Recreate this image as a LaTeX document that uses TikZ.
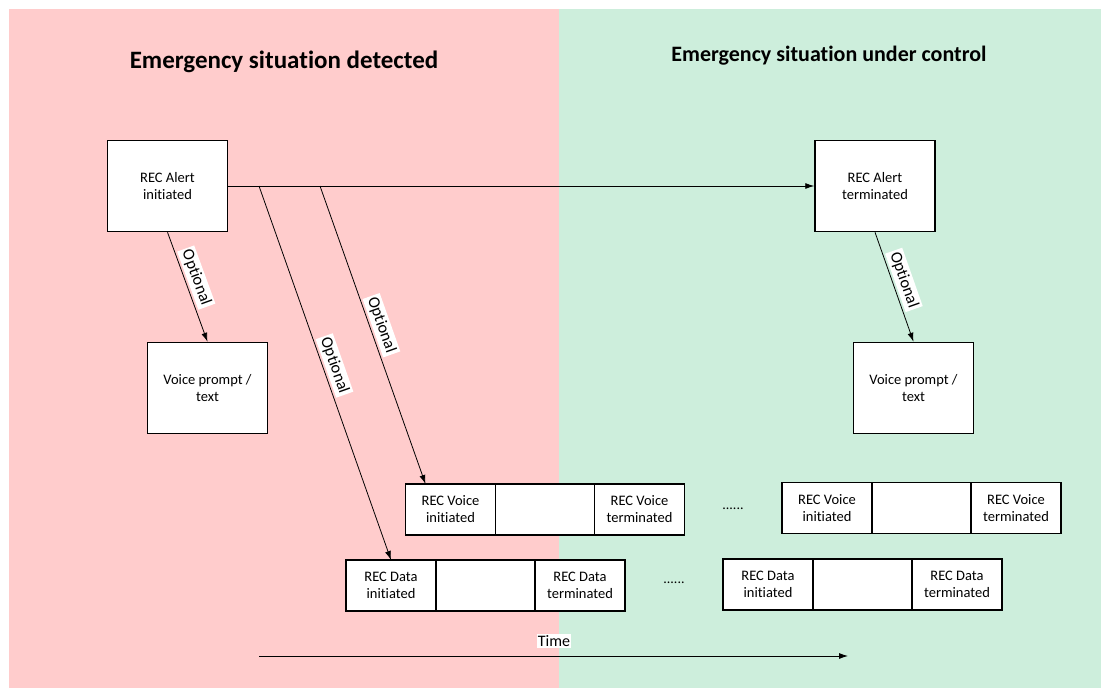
\documentclass[tikz,border=0pt]{standalone}
\usepackage{fontspec}
\setmainfont{Carlito}[Ligatures=NoCommon]
\usetikzlibrary{positioning,arrows.meta}
\definecolor{alertpink}{RGB}{255,204,204}
\definecolor{controlgreen}{RGB}{205,238,220}
\begin{document}
\begin{tikzpicture}[x=1pt, y=-1pt, >={Latex[length=9pt,width=6pt]},
	main/.style = {draw, line width=1.5pt, fill=white, minimum width=120pt, minimum height=91pt, align=center, font=\fontsize{14.5}{17}\selectfont},
	cell/.style = {draw, line width=1.5pt, fill=white, outer sep=0pt, minimum width=90pt, minimum height=51pt, align=center, font=\fontsize{14.5}{17}\selectfont},
	gap/.style = {cell, minimum width=99pt},
	opt/.style = {fill=white, sloped, above=2pt, inner sep=2pt, font=\fontsize{16.5}{19}\selectfont},
	title/.style = {font=\fontsize{22}{26}\selectfont\bfseries},
	link/.style = {line width=0.8pt}]
	\useasboundingbox (0,0) rectangle (1106,688);
	\fill[alertpink] (9,9) rectangle (559,688);
	\fill[controlgreen] (559,9) rectangle (1101,688);
	\node[title, font=\fontsize{25}{30}\selectfont\bfseries] (detected) at (284,62) {Emergency situation detected};
	\node[title] (control) at (829,56) {Emergency situation under control};
	% alert and voice prompt boxes
	\node[main] (ai) at (167.5,186) {REC Alert\\initiated};
	\node[main] (at) at (875,186) {REC Alert\\terminated};
	\node[main] (vp1) at (207.5,388) {Voice prompt /\\text};
	\node[main] (vp2) at (913.5,388) {Voice prompt /\\text};
	% voice and data rows
	\node[cell] (vi1) at (450.5,509.5) {REC Voice\\initiated};
	\node[gap] (vg1) [right=0pt of vi1] {};
	\node[cell] (vt1) [right=0pt of vg1] {REC Voice\\terminated};
	\node[cell] (di1) at (391,585.5) {REC Data\\initiated};
	\node[gap] (dg1) [right=0pt of di1] {};
	\node[cell] (dt1) [right=0pt of dg1] {REC Data\\terminated};
	\node[cell] (vi2) at (827,508) {REC Voice\\initiated};
	\node[gap] (vg2) [right=0pt of vi2] {};
	\node[cell] (vt2) [right=0pt of vg2] {REC Voice\\terminated};
	\node[cell] (di2) at (768,584.5) {REC Data\\initiated};
	\node[gap] (dg2) [right=0pt of di2] {};
	\node[cell] (dt2) [right=0pt of dg2] {REC Data\\terminated};
	\node[font=\fontsize{14}{16}\selectfont] (dots1) at (733,509) {......};
	\node[font=\fontsize{14}{16}\selectfont] (dots2) at (674,583) {......};
	% connectors
	\coordinate (b1) at (259,186);
	\coordinate (b2) at (320,186);
	\draw[link,->] (ai.east) -- (at.west);
	\draw[link,->] (ai.south) -- node[opt, pos=0.45] {Optional} (vp1.north);
	\draw[link,->] (at.south) -- node[opt, pos=0.47] {Optional} (vp2.north);
	\draw[link,->] (b1) -- node[opt, pos=0.49] {Optional} (di1.north);
	\draw[link,->] (b2) -- node[opt, pos=0.48] {Optional} ([xshift=20pt]vi1.north west);
	% time axis
	\coordinate (t0) at (259,656);
	\coordinate (t1) at (848,656);
	\draw[link,->] (t0) -- (t1);
	\node[fill=white, inner sep=1pt, font=\fontsize{16}{19}\selectfont] (time) at (554,641) {Time};
\end{tikzpicture}
\end{document}
